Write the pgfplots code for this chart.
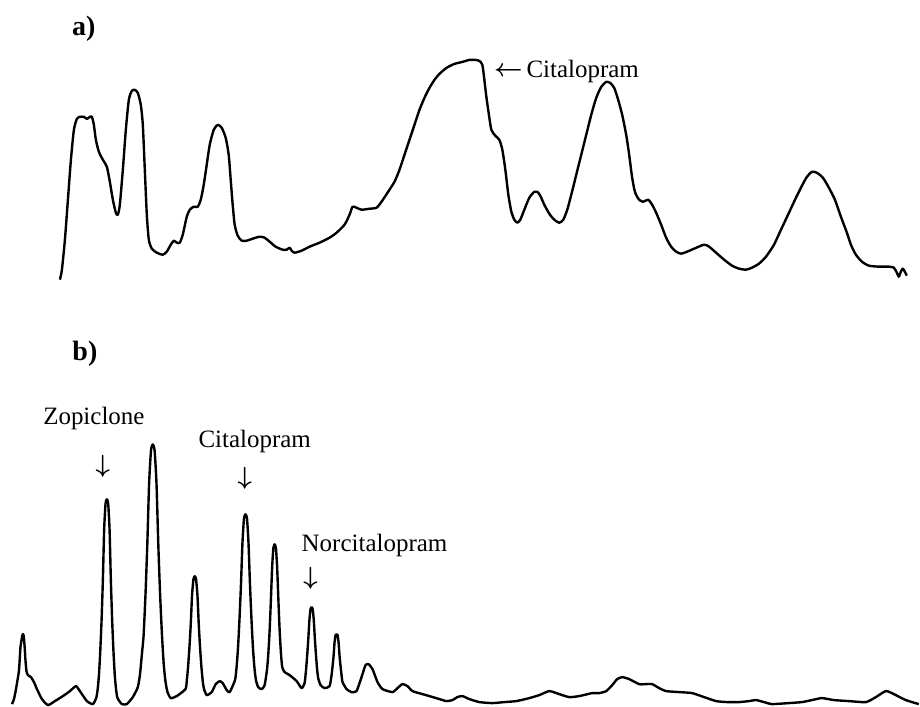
\documentclass[border=0pt]{standalone}
\usepackage{pgfplots}
\pgfplotsset{compat=1.18}
\usepackage{fontspec}
\setmainfont{Liberation Serif}
\begin{document}
\begin{tikzpicture}
\begin{axis}[width=920pt,height=707pt,scale only axis,
  xmin=0,xmax=920,ymin=0,ymax=707,y dir=reverse,hide axis,clip=false]
\draw[draw=none] (rel axis cs:0,0) rectangle (rel axis cs:1,1);
% panel a
\addplot[black,line width=2.4pt,line join=round,smooth,tension=0.4] coordinates {
(60,280)(62,270)(65,240)(68,200)(71,160)(74,130)(77,119)(80,117)(84,117)(87,119)(90,117)(92,117)(94,125)(96,140)(99,152)(103,160)(107,167)(110,182)(113,200)(116,213)(118,215)(120,205)(123,170)(126,130)(129,100)(132,91)(135,90)(138,93)(141,105)(143,125)(145,170)(147,215)(149,240)(152,249)(157,253)(163,255)(167,252)(171,245)(174,241)(177,243)(180,243)(183,235)(187,217)(190,210)(194,207)(198,207)(201,200)(204,185)(207,165)(210,145)(214,130)(218,125)(222,128)(226,138)(229,155)(231,180)(233,205)(235,225)(238,236)(242,241)(247,241)(253,239)(260,237)(265,238)(270,242)(276,247)(283,250)(287,250)(290,248)(292,251)(295,253)(302,251)(310,247)(315,245)(320,243)(330,238)(337,233)(345,225)(350,215)(353,207)(357,208)(362,210)(370,209)(377,208)(382,202)(388,193)(395,182)(400,170)(405,155)(410,140)(415,125)(420,110)(425,98)(430,88)(435,80)(440,74)(447,68)(455,64)(463,62)(470,60)(476,60)(480,61)(483,65)(485,80)(487,97)(490,118)(492,130)(496,136)(500,140)(503,150)(506,170)(509,195)(512,212)(515,220)(518,223)(521,220)(525,210)(530,198)(535,192)(538,192)(541,196)(545,205)(550,214)(555,220)(560,223)(564,220)(568,210)(572,195)(577,175)(582,155)(587,135)(592,115)(597,98)(602,87)(607,82)(611,83)(615,88)(619,100)(623,115)(627,135)(630,155)(633,178)(636,193)(640,200)(644,202)(649,200)(653,205)(657,213)(662,225)(667,238)(672,247)(677,252)(682,254)(688,252)(695,249)(705,245)(710,247)(717,253)(725,260)(733,266)(740,269)(747,270)(753,268)(760,264)(767,257)(775,245)(782,230)(790,213)(797,198)(803,186)(808,177)(813,172)(818,173)(824,178)(830,188)(836,200)(842,217)(848,233)(852,245)(857,255)(863,262)(870,266)(880,267)(890,267)(895,268)(898,273)(900,277)(902,272)(904,269)(906,272)(908,276)
};
% panel b
\addplot[black,line width=2.4pt,line join=round,smooth,tension=0.35] coordinates {
(12,705)(14,700)(16,690)(18.8,673)(19.7,661)(20.5,648)(22.2,637)(23,635)(23.8,637)(24.7,648)(25.5,661)(26.5,672)(28,676)(31,678)(34,683)(37,690)(42,700)(48,706)(55,702)(63,697)(70,692)(76,687)(80,692)(87,702)(93,705)
(96.3,699)(97.7,691)(99,677)(100.3,654)(101.7,621)(103,581)(104.3,530)(105.7,504)(107,500)(108.3,504)(109.7,530)(111,581)(112.3,621)(113.7,654)(115,677)(116.3,691)(117.7,699)(122,705)(127,705)
(133,698)(138,688)(140.2,675)(142,656)(143.8,636)(145.7,595)(147.5,545)(149.3,484)(151.2,451)(153,445)(154.8,451)(156.7,484)(158.5,545)(160.3,595)(162.2,636)(164,666)(165.8,683)(167.7,693)(171,699)(177,697)
(185.7,690)(187,682)(188.3,668)(189.7,648)(191,625)(192.3,596)(193.7,580)(195,577)(196.3,580)(197.7,596)(199,625)(200.3,648)(201.7,668)(203,682)(204.3,690)(207,696)(212,693)(216,685)(220,682)(223,684)(227,691)(230,693)
(235.3,681)(236.8,669)(238.3,649)(239.8,620)(241.3,585)(242.8,543)(244.3,519)(245.8,515)(247.3,519)(248.8,543)(250.3,585)(251.8,620)(253.3,649)(254.8,669)(256.3,681)(258.5,688)(262,690)(265,686)
(267.4,670)(268.7,654)(270,631)(271.2,602)(272.5,568)(273.7,549)(275,545)(276.3,549)(277.5,568)(278.8,602)(280,631)(281.3,654)(282.6,668)(285,673)(290,676)(297,682)(302,689)(305,684)
(306.5,670)(307.6,656)(308.7,640)(309.8,621)(310.9,610)(312,608)(313.1,610)(314.2,621)(315.3,640)(316.4,656)(317.5,670)(318.6,679)(321,686)(325,689)(330,687)
(332,676)(333,667)(334,657)(335,643)(336,636)(337,635)(338,636)(339,643)(340,657)(341,667)(342,676)(343,683)(347,690)(352,693)(357,692)
(362,678)(366,666)(369,665)(373,670)(378,683)(383,690)(393,693)(398,689)(403,685)(408,687)(413,692)(423,695)(430,697)
(440,700)(447,702)(453,701)(458,698)(463,697)(470,700)(480,703)(493,704)(505,703)(517,702)(530,699)(540,696)(550,692)(560,695)(570,698)(580,697)(593,694)(600,694)(607,692)(613,686)(618,680)(623,678)(630,680)(640,685)(647,685)(653,685)(660,689)(667,692)(680,693)(693,694)(705,698)(717,702)(728,703)(740,703)(750,702)(757,701)(765,703)(773,705)(790,704)(803,703)(813,701)(823,699)(835,701)(850,702)(867,703)(877,698)(887,692)(895,695)(907,701)(920,705)
};
\node[font=\fontsize{28}{32}\selectfont\bfseries] at (axis cs:84,29) {a)};
\node[font=\fontsize{28}{32}\selectfont\bfseries] at (axis cs:85,354) {b)};
\node[font=\fontsize{24}{28}\selectfont\boldmath,inner sep=0pt] at (axis cs:509,72) {$\leftarrow$};
\node[font=\fontsize{25}{30}\selectfont,anchor=base west,inner sep=0pt] at (axis cs:527,78) {Citalopram};
\node[font=\fontsize{25}{30}\selectfont,anchor=base] at (axis cs:94,425) {Zopiclone};
\node[font=\fontsize{25}{30}\selectfont,anchor=base] at (axis cs:255,448) {Citalopram};
\node[font=\fontsize{25}{30}\selectfont,anchor=base] at (axis cs:375,552) {Norcitalopram};
\node[font=\fontsize{26}{30}\selectfont\boldmath,inner sep=0pt] at (axis cs:103,467) {$\downarrow$};
\node[font=\fontsize{26}{30}\selectfont\boldmath,inner sep=0pt] at (axis cs:245,479) {$\downarrow$};
\node[font=\fontsize{26}{30}\selectfont\boldmath,inner sep=0pt] at (axis cs:311,579) {$\downarrow$};
\end{axis}
\end{tikzpicture}
\end{document}
